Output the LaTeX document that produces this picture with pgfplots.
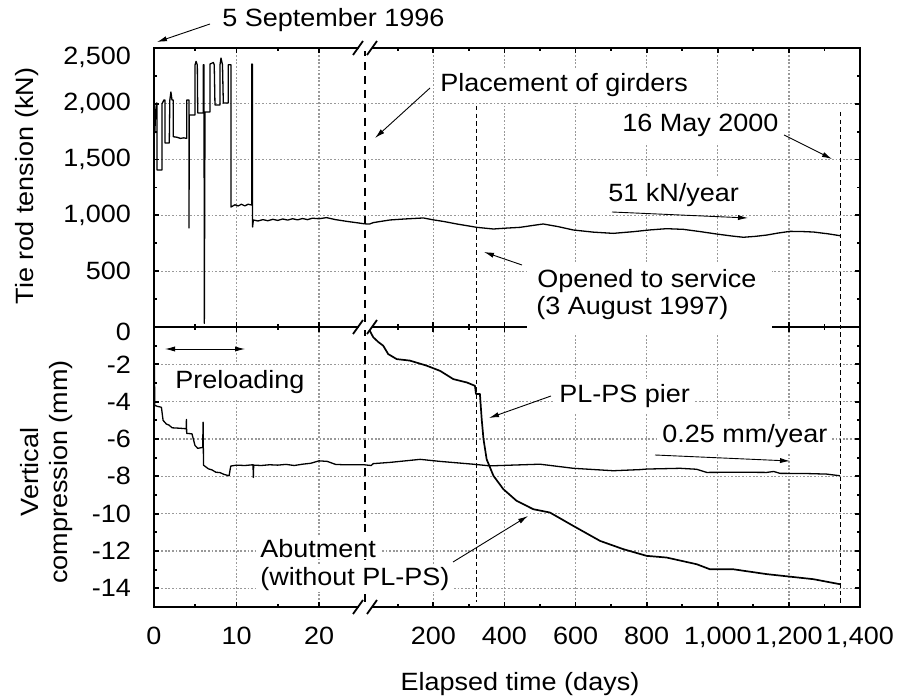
\documentclass[border=0pt]{standalone}
\usepackage{pgfplots}
\pgfplotsset{compat=1.18}
\usepackage{fontspec}
\setmainfont{Liberation Sans}[FakeStretch=1.08]
\usetikzlibrary{arrows.meta}

\pgfplotsset{
  brk/.style={
    scale only axis,
    axis line style={draw=none},
    tick style={black, line width=0.9pt},
    major tick length=2.6pt, minor tick length=1.5pt,
    grid=major,
    grid style={black!40, line width=0.6pt, dash pattern=on 0.9pt off 0.9pt},
    tick label style={font=\fontsize{12.5}{15}\selectfont},
    yticklabel style={xshift=-8pt},
    xticklabel style={yshift=-6.3pt},
    clip=true,
  },
  dat/.style={black, mark=none, line width=0.65pt, line join=round},
}

\begin{document}
\begin{tikzpicture}[font=\fontsize{12.5}{15}\selectfont]
\path[use as bounding box] (0,0) rectangle (452pt,348pt);

% ---------- top left ----------
\begin{axis}[brk, at={(77pt,184.5pt)}, anchor=south west, width=105pt, height=139.5pt,
  xmin=0, xmax=25.45, ymin=0, ymax=2500,
  xtick={0,10,20}, minor xtick={5,15}, xticklabels={},
  ytick={0,500,...,2500}, minor ytick={250,750,...,2250},
  yticklabels={{},500,{1,000},{1,500},{2,000},{}},
  extra y ticks={2500}, extra y tick labels={2{,}500},
  extra y tick style={yticklabel style={yshift=-4.5pt}},
  ytick pos=left]
\addplot[dat] coordinates {
(0.00,1940) (0.10,1740) (0.20,1930) (0.30,2007) (0.36,2007) (0.36,1407) (0.97,1407)
(0.97,2000) (1.20,2034) (1.33,2034) (1.33,1649) (1.85,1649) (1.92,2034) (2.05,2106)
(2.18,2034) (2.34,2034) (2.34,1705) (2.8,1700) (3.2,1690) (3.6,1695) (3.96,1690)
(3.96,2034) (4.24,2034) (4.24,887) (4.28,1900) (4.97,1900) (4.97,2347) (5.10,2380)
(5.25,2347) (5.30,1917) (5.98,1917) (5.98,2350) (6.06,2350) (6.10,33) (6.18,1927)
(6.79,1927) (6.79,2356) (7.19,2370) (7.30,2350) (7.39,1989) (8.00,1989) (8.00,2350)
(8.12,2410) (8.30,2350) (8.40,2007) (9.00,2007) (9.00,2350) (9.33,2350) (9.33,1075)
(9.8,1095) (10.2,1085) (10.6,1100) (11.0,1085) (11.4,1100) (11.84,1093) (11.84,2356)
(11.92,2356) (11.95,896) (12.04,959) (12.6,950) (13.2,962) (13.8,952) (14.4,965)
(15.0,955) (15.6,968) (16.2,958) (16.8,970) (17.4,960) (18.0,972) (18.6,962)
(19.2,975) (20.0,970) (20.9,980) (22.0,962) (23.5,945) (25.0,930) (25.45,925)
};
\end{axis}

% ---------- top right ----------
\begin{axis}[brk, at={(182pt,184.5pt)}, anchor=south west, width=248pt, height=139.5pt,
  xmin=5, xmax=1400, ymin=0, ymax=2500,
  xtick={200,400,...,1400}, minor xtick={100,300,...,1300}, xticklabels={},
  ytick={0,500,...,2500}, minor ytick={250,750,...,2250}, yticklabels={},
  ytick pos=right]
\addplot[dat] coordinates {
(5,925) (20,922) (31,935) (50,945) (78,959) (120,968) (172,977) (200,960) (230,945)
(266,923) (300,905) (322,893) (369,878) (400,885) (444,893) (480,910) (509,923)
(550,900) (594,869) (650,850) (706,839) (762,854) (810,870) (856,881) (903,875)
(950,855) (997,833) (1040,815) (1072,804) (1105,812) (1138,824) (1170,842) (1203,857)
(1240,855) (1269,851) (1310,835) (1344,818)
};
\end{axis}

% ---------- bottom left ----------
\begin{axis}[brk, at={(77pt,44.5pt)}, anchor=south west, width=105pt, height=140pt,
  xmin=0, xmax=25.45, ymin=-15, ymax=0,
  xtick={0,10,20}, minor xtick={5,15}, xticklabels={0,10,20},
  ytick={-14,-12,...,0}, minor ytick={-15,-13,...,-1},
  yticklabels={{-14},{-12},{-10},{-8},{-6},{-4},{-2},{}},
  extra y ticks={0}, extra y tick labels={0},
  extra y tick style={yticklabel style={yshift=-2.5pt}},
  ytick pos=left]
\addplot[dat] coordinates {
(0.00,-0.3) (0.04,-2.0) (0.10,-4.2) (0.40,-4.25) (0.90,-4.3) (1.10,-5.0) (1.50,-5.2)
(1.80,-5.25) (2.20,-5.4) (3.00,-5.42) (3.90,-5.45) (3.93,-4.95) (3.96,-5.7) (4.60,-5.72)
(4.97,-6.35) (5.30,-6.5) (5.90,-6.45) (5.95,-5.1) (6.00,-7.4) (6.30,-7.5) (6.60,-7.6)
(7.00,-7.65) (7.50,-7.78) (8.00,-7.8) (8.50,-7.9) (9.10,-7.97) (9.30,-7.45) (10.0,-7.4)
(11.0,-7.42) (12.00,-7.38) (12.04,-8.06) (12.08,-7.4) (13.0,-7.42) (14.0,-7.38)
(15.0,-7.4) (16.0,-7.36) (17.0,-7.42) (18.0,-7.35) (19.0,-7.3) (20.0,-7.17) (21.0,-7.2)
(22.0,-7.36) (23.0,-7.38) (24.0,-7.38) (25.45,-7.38)
};
\end{axis}

% ---------- bottom right ----------
\begin{axis}[brk, at={(182pt,44.5pt)}, anchor=south west, width=248pt, height=140pt,
  xmin=5, xmax=1400, ymin=-15, ymax=0,
  xtick={200,400,...,1400}, minor xtick={100,300,...,1300},
  xticklabels={200,400,600,800,{1,000},{1,200},{1,400}},
  ytick={-14,-12,...,0}, minor ytick={-15,-13,...,-1}, yticklabels={},
  ytick pos=right]
% nearly flat curve
\addplot[dat] coordinates {
(5,-7.38) (25,-7.42) (31,-7.32) (80,-7.25) (163,-7.09) (219,-7.2) (312,-7.35) (359,-7.44)
(420,-7.4) (500,-7.35) (594,-7.57) (706,-7.7) (781,-7.64) (800,-7.61) (894,-7.57)
(940,-7.62) (969,-7.79) (1060,-7.78) (1138,-7.79) (1157,-7.74) (1175,-7.84) (1250,-7.85)
(1306,-7.88) (1344,-7.97)
};
% steep curve
\addplot[dat, line width=0.85pt] coordinates {
(17,0.0) (24,-0.3) (31,-0.55) (45,-0.8) (59,-1.0) (73,-1.45) (97,-1.72) (134,-1.8)
(181,-2.07) (219,-2.35) (256,-2.79) (294,-2.97) (317,-3.15) (320,-3.59) (331,-3.59)
(336,-4.93) (341,-6.0) (350,-7.09) (369,-7.97) (397,-8.69) (434,-9.31) (481,-9.76)
(528,-9.94) (594,-10.66) (669,-11.46) (734,-11.9) (800,-12.26) (856,-12.35) (941,-12.71)
(978,-12.98) (1044,-12.98) (1138,-13.24) (1269,-13.51) (1344,-13.78)
};
\end{axis}

% ---------- annotations (pixel coordinates of a 904 x 696 image) ----------
\begin{scope}[x=0.5pt, y=-0.5pt, yshift=348pt]
  % frame
  \draw[line width=1.3pt] (154,48) rectangle (860,607);
  \draw[line width=1.3pt] (154,327) -- (860,327);
  % vertical event lines
  \draw[line width=0.75pt, dash pattern=on 4pt off 3pt] (365,48) -- (365,607);
  \draw[line width=0.45pt, dash pattern=on 2.2pt off 1.6pt] (476.7,106) -- (476.7,602);
  \draw[line width=0.45pt, dash pattern=on 2.2pt off 1.6pt] (840,112) -- (840,607);
  % break marks
  \foreach \yy in {48,327,607} {
    \fill[white] (358.5,\yy-3) rectangle (371.5,\yy+3);
    \draw[line width=0.9pt] (353,\yy+7) -- (363,\yy-7);
    \draw[line width=0.9pt] (367,\yy+7) -- (377,\yy-7);
  }
  % white boxes
  \fill[white] (527,262) rectangle (772,333);
  \tikzset{lab/.style={anchor=base west, inner xsep=2pt, inner ysep=3pt, fill=white}}
  \node[anchor=base west, inner sep=0pt] at (222,27) {5 September 1996};
  \node[lab] at (436,92) {Placement of girders};
  \node[lab] at (618,132) {16 May 2000};
  \node[lab] at (604,202) {51 kN/year};
  \node[anchor=base west, inner sep=0pt] at (537,288) {Opened to service};
  \node[anchor=base west, inner sep=0pt] at (536,315) {(3 August 1997)};
  \node[lab] at (171,389) {Preloading};
  \node[lab] at (555,403) {PL-PS pier};
  \node[lab] at (658,443) {0.25 mm/year};
  \node[lab, inner ysep=1pt] at (256,557) {Abutment};
  \node[lab, inner ysep=1pt] at (256,585) {(without PL-PS)};
  % arrows
  \tikzset{arr/.style={line width=0.45pt, -{Latex[length=5pt, width=2.6pt]}}}
  \draw[arr] (210,24) -- (157,42);
  \draw[arr] (430,88) -- (375,138);
  \draw[arr] (784,135) -- (832,159);
  \draw[arr] (612,212) -- (748,218);
  \draw[arr] (522,265) -- (484,252);
  \draw[line width=0.45pt, {Latex[length=5pt, width=2.6pt]}-{Latex[length=5pt, width=2.6pt]}] (165,349) -- (245,349);
  \draw[arr] (551,396) -- (489,418);
  \draw[arr] (655,455) -- (790,461);
  \draw[arr] (453,562) -- (528,516);
  % axis titles
  \node[rotate=90, anchor=base, inner sep=0pt] at (33,186) {Tie rod tension (kN)};
  \node[rotate=90, anchor=base, inner sep=0pt] at (38,472) {Vertical};
  \node[rotate=90, anchor=base, inner sep=0pt] at (67,472) {compression (mm)};
  \node[anchor=base, inner sep=0pt] at (520,690) {Elapsed time (days)};
\end{scope}
\end{tikzpicture}
\end{document}
